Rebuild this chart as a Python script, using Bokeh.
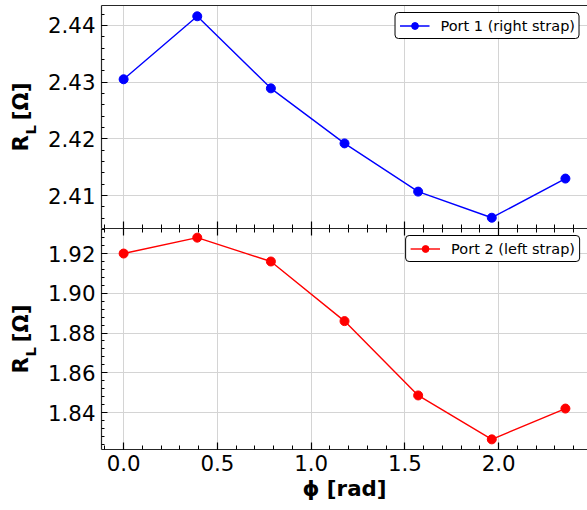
from bokeh.plotting import figure
from bokeh.models import (LinearAxis, SingleIntervalTicker, NumeralTickFormatter,
                          CustomJSTickFormatter, Title, Range1d)
from bokeh.layouts import column
from bokeh.embed import file_html
from bokeh.resources import INLINE

# ---------------- data ----------------
phi = [0.0, 0.3927, 0.7854, 1.1781, 1.5708, 1.9635, 2.3562]
port1 = [2.4305, 2.4416, 2.4289, 2.4192, 2.4107, 2.4061, 2.4130]
port2 = [1.9200, 1.9280, 1.9160, 1.8860, 1.8486, 1.8265, 1.8420]
port1_label = "Port 1 (right strap)"
port2_label = "Port 2 (left strap)"
x_label = "ϕ [rad]"
NB = "\u00a0"
y_main = "R" + NB * 2 + "[Ω]"
y_sub = "L" + NB * 5

FONT = "DejaVu Sans"
AX = "#262626"
GRID = "#d4d4d4"
W = 587
LEFT = 101
TOP_FRAME_H = 223
BOT_FRAME_H = 221


def style_axis(ax, tick_in, minor_in, labels=True):
    ax.axis_line_color = AX
    ax.axis_line_width = 1.2
    ax.major_tick_in = tick_in
    ax.major_tick_out = 0
    ax.minor_tick_in = minor_in
    ax.minor_tick_out = 0
    ax.major_tick_line_color = "black"
    ax.minor_tick_line_color = "black"
    ax.major_tick_line_width = 1.2
    ax.minor_tick_line_width = 1.0
    ax.major_label_text_font = FONT
    ax.major_label_text_color = "black"
    if labels:
        ax.major_label_text_font_size = "16pt"
        ax.major_label_standoff = 6
    else:
        ax.formatter = CustomJSTickFormatter(code="return ''")
        ax.major_label_text_font_size = "0px"
        ax.major_label_standoff = 0


def make_fig(height, yr, ytick, top_b, bot_b):
    p = figure(width=W, height=height, x_range=Range1d(-0.118, 2.474),
               y_range=Range1d(*yr), output_backend="svg", toolbar_location=None,
               min_border_left=LEFT, min_border_right=0,
               min_border_top=top_b, min_border_bottom=bot_b)
    p.outline_line_color = None
    p.background_fill_color = "white"
    p.border_fill_color = "white"
    p.xaxis.ticker = SingleIntervalTicker(interval=0.5, num_minor_ticks=5)
    p.yaxis.ticker = SingleIntervalTicker(interval=ytick, num_minor_ticks=5)
    p.xaxis.formatter = NumeralTickFormatter(format="0.0")
    p.yaxis.formatter = NumeralTickFormatter(format="0.00")
    style_axis(p.yaxis[0], 6, 3)
    p.xgrid.grid_line_color = GRID
    p.ygrid.grid_line_color = GRID
    p.xgrid.grid_line_width = 1
    p.ygrid.grid_line_width = 1
    return p


def add_ylabel(p):
    # subscript "L" as the axis label (next to the tick labels) ...
    ya = p.yaxis[0]
    ya.axis_label = y_sub
    ya.axis_label_standoff = 6
    ya.axis_label_text_font = FONT
    ya.axis_label_text_font_style = "bold"
    ya.axis_label_text_font_size = "11pt"
    ya.axis_label_text_color = "black"
    # ... and the main symbol + unit as a title pulled back over it
    p.add_layout(Title(text=y_main, align="center", vertical_align="bottom",
                       standoff=-26, text_font=FONT, text_font_style="bold",
                       text_font_size="16pt", text_color="black"), "left")


def style_legend(p):
    leg = p.legend[0]
    leg.location = "top_right"
    leg.margin = 7
    leg.padding = 4
    leg.spacing = 0
    leg.glyph_width = 30
    leg.glyph_height = 17
    leg.label_height = 17
    leg.label_standoff = 11
    leg.label_text_font = FONT
    leg.label_text_font_size = "14.5px"
    leg.label_text_color = "black"
    leg.label_text_baseline = "middle"
    leg.border_line_color = "black"
    leg.border_line_width = 1
    leg.border_line_alpha = 1
    leg.background_fill_color = "white"
    leg.background_fill_alpha = 1
    if hasattr(leg, "border_radius"):
        leg.border_radius = 4


# ---------------- top panel ----------------
p1 = make_fig(5 + TOP_FRAME_H, (2.4042, 2.4435), 0.01, 5, 0)
style_axis(p1.xaxis[0], 7, 4, labels=False)
top_ax = LinearAxis(ticker=SingleIntervalTicker(interval=0.5, num_minor_ticks=5))
style_axis(top_ax, 0, 0, labels=False)
p1.add_layout(top_ax, "above")
p1.line(phi, port1, color="#0000ff", line_width=1.4, legend_label=port1_label)
p1.scatter(phi, port1, size=9, color="#0000ff", legend_label=port1_label)
add_ylabel(p1)
style_legend(p1)

# ---------------- bottom panel ----------------
p2 = make_fig(BOT_FRAME_H + 61, (1.8214, 1.9326), 0.02, 0, 61)
style_axis(p2.xaxis[0], 7, 4, labels=True)
p2.xaxis.major_label_standoff = 5
p2.xaxis.axis_label = x_label
p2.xaxis.axis_label_text_font = FONT
p2.xaxis.axis_label_text_font_style = "bold"
p2.xaxis.axis_label_text_font_size = "16pt"
p2.xaxis.axis_label_text_color = "black"
p2.xaxis.axis_label_standoff = 2
top_ax2 = LinearAxis(ticker=SingleIntervalTicker(interval=0.5, num_minor_ticks=5))
style_axis(top_ax2, 7, 4, labels=False)
p2.add_layout(top_ax2, "above")
p2.line(phi, port2, color="#ff0000", line_width=1.4, legend_label=port2_label)
p2.scatter(phi, port2, size=9, color="#ff0000", legend_label=port2_label)
add_ylabel(p2)
style_legend(p2)

layout = column(p1, p2, spacing=0)

open("out.html", "w").write(file_html(layout, INLINE))
